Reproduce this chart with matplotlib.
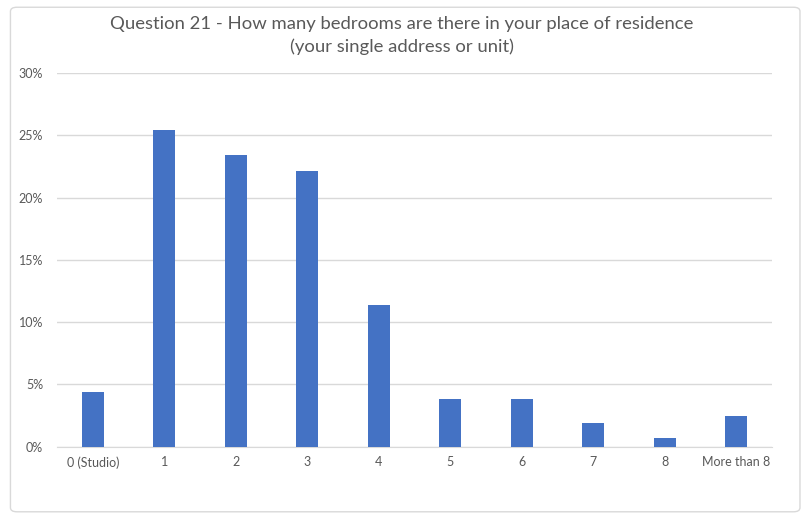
import matplotlib
matplotlib.use("Agg")
import matplotlib.pyplot as plt
from matplotlib.patches import FancyBboxPatch
from matplotlib.ticker import FuncFormatter

categories = ["0 (Studio)", "1", "2", "3", "4", "5", "6", "7", "8", "More than 8"]
values = [4.4, 25.4, 23.4, 22.1, 11.4, 3.8, 3.8, 1.9, 0.7, 2.5]
yticks = [0, 5, 10, 15, 20, 25, 30]

plt.rcParams['font.family'] = ['Lato', 'DejaVu Sans']

fig = plt.figure(figsize=(8.04, 5.18), dpi=100)
border = FancyBboxPatch((0.013, 0.012), 0.982, 0.974, boxstyle="round,pad=0,rounding_size=0.008",
                        transform=fig.transFigure, facecolor='white', edgecolor='#d9d9d9', lw=1, zorder=-10)
fig.patches.append(border)
ax = fig.add_axes([0.071, 0.1376, 0.889, 0.7214])
x = range(len(categories))
ax.bar(x, values, width=0.31, color='#4472C4', zorder=3)
ax.set_xlim(-0.5, len(categories) - 0.5)
ax.set_ylim(0, 30)
ax.set_yticks(yticks)
ax.yaxis.set_major_formatter(FuncFormatter(lambda v, p: f"{v:.0f}%"))
ax.set_xticks(list(x))
ax.set_xticklabels(categories)
ax.grid(axis='y', color='#d9d9d9', lw=1, zorder=0)
for s in ['top', 'right', 'left']:
    ax.spines[s].set_visible(False)
ax.spines['bottom'].set_color('#d9d9d9')
ax.tick_params(axis='both', length=0, colors='#595959', labelsize=9)
ax.tick_params(axis='x', pad=7)
ax.tick_params(axis='y', pad=10)
ax.set_facecolor('none')
fig.text(0.5, 0.97, "Question 21 - How many bedrooms are there in your place of residence\n(your single address or unit)",
         ha='center', va='top', fontsize=13.3, color='#595959', linespacing=1.5)
fig.savefig("out.png", dpi=100)
